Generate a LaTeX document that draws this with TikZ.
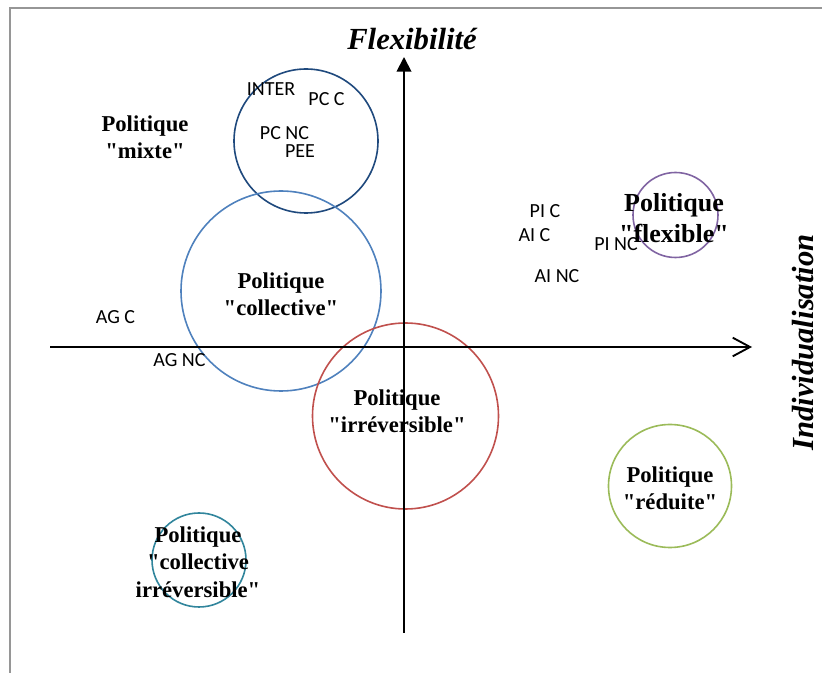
\documentclass[tikz,border=0pt]{standalone}
\usepackage{fontspec}
\setmainfont{Liberation Serif}
\newfontfamily\actorfont{Carlito}
\usetikzlibrary{positioning}
\usetikzlibrary{arrows.meta}
\definecolor{MixteColor}{RGB}{31,73,125}
\definecolor{CollColor}{RGB}{79,129,189}
\definecolor{IrrColor}{RGB}{192,80,77}
\definecolor{FlexColor}{RGB}{128,100,162}
\definecolor{RedColor}{RGB}{155,187,89}
\definecolor{CollIrrColor}{RGB}{49,133,156}
\definecolor{FrameColor}{RGB}{150,150,150}
\def\dq{\textquotedbl}

\begin{document}
\begin{tikzpicture}[x=0.75pt,y=-0.75pt]
\tikzstyle{frame} = [draw=FrameColor, line width=1.5pt]
\tikzstyle{zone} = [circle, draw, line width=1.2pt, inner sep=0pt]
\tikzstyle{policy} = [font=\fontsize{17}{20.5}\selectfont\bfseries, align=center, inner sep=0pt]
\tikzstyle{actor} = [font=\fontsize{15}{18}\actorfont, inner sep=0pt]
\tikzstyle{axislabel} = [font=\fontsize{23}{27}\selectfont\bfseries\itshape, inner sep=0pt]
\tikzstyle{connector} = [draw, line width=1.4pt]

\useasboundingbox (0,0) rectangle (822,673);
\draw [frame] (10,673) -- (10,8) -- (822,8);

% zones
\node [zone, draw=MixteColor, minimum size=108pt] at (306,141) (zmixte) {};
\node [zone, draw=CollColor, minimum size=150pt] at (281,291) (zcoll) {};
\node [zone, draw=IrrColor, minimum size=139.5pt] at (405.5,416) (zirr) {};
\node [zone, draw=FlexColor, minimum size=63.75pt] at (675.5,215) (zflex) {};
\node [zone, draw=RedColor, minimum size=92.25pt] at (670,486) (zred) {};
\node [zone, draw=CollIrrColor, minimum size=70.5pt] at (199,560) (zcollirr) {};

% axes
\coordinate (ybot) at (404,633);
\coordinate (ytop) at (404,57);
\coordinate (xleft) at (50,347);
\coordinate (xright) at (752,347);
\path [connector, -{Triangle[length=11pt,width=11pt]}] (ybot) -- (ytop);
\path [connector, -{Straight Barb[length=13pt,width=14pt]}] (xleft) -- (xright);

\node [axislabel, anchor=base] at (412,50) (flex) {Flexibilité};
\node [axislabel, anchor=base, rotate=90] at (813,342.5) (indiv) {Individualisation};

% politiques
\node [policy] at (145,137) (pmixte) {Politique\\\dq mixte\dq};
\node [policy] at (281,294) (pcoll) {Politique\\\dq collective\dq};
\node [policy] at (397,411) (pirr) {Politique\\\dq irréversible\dq};
\node [policy, font=\fontsize{19.5}{23}\selectfont\bfseries] at (674,218) (pflex) {Politique\\\dq flexible\dq};
\node [policy] at (670,488) (pred) {Politique\\\dq réduite\dq};
\node [policy] at (198,562) (pcollirr) {Politique\\\dq collective\\irréversible\dq};

% acteurs
\node [actor] at (271,89.5) (inter) {INTER};
\node [actor] at (326.5,99.5) (pcc) {PC C};
\node [actor] at (284.5,133.5) (pcnc) {PC NC};
\node [actor] at (300,151.5) (pee) {PEE};
\node [actor] at (545,211.5) (pic) {PI C};
\node [actor] at (534.5,235) (aic) {AI C};
\node [actor] at (616,244) (pinc) {PI NC};
\node [actor] at (557,276.5) (ainc) {AI NC};
\node [actor] at (115.5,317) (agc) {AG C};
\node [actor] at (179.5,360) (agnc) {AG NC};

\end{tikzpicture}
\end{document}
